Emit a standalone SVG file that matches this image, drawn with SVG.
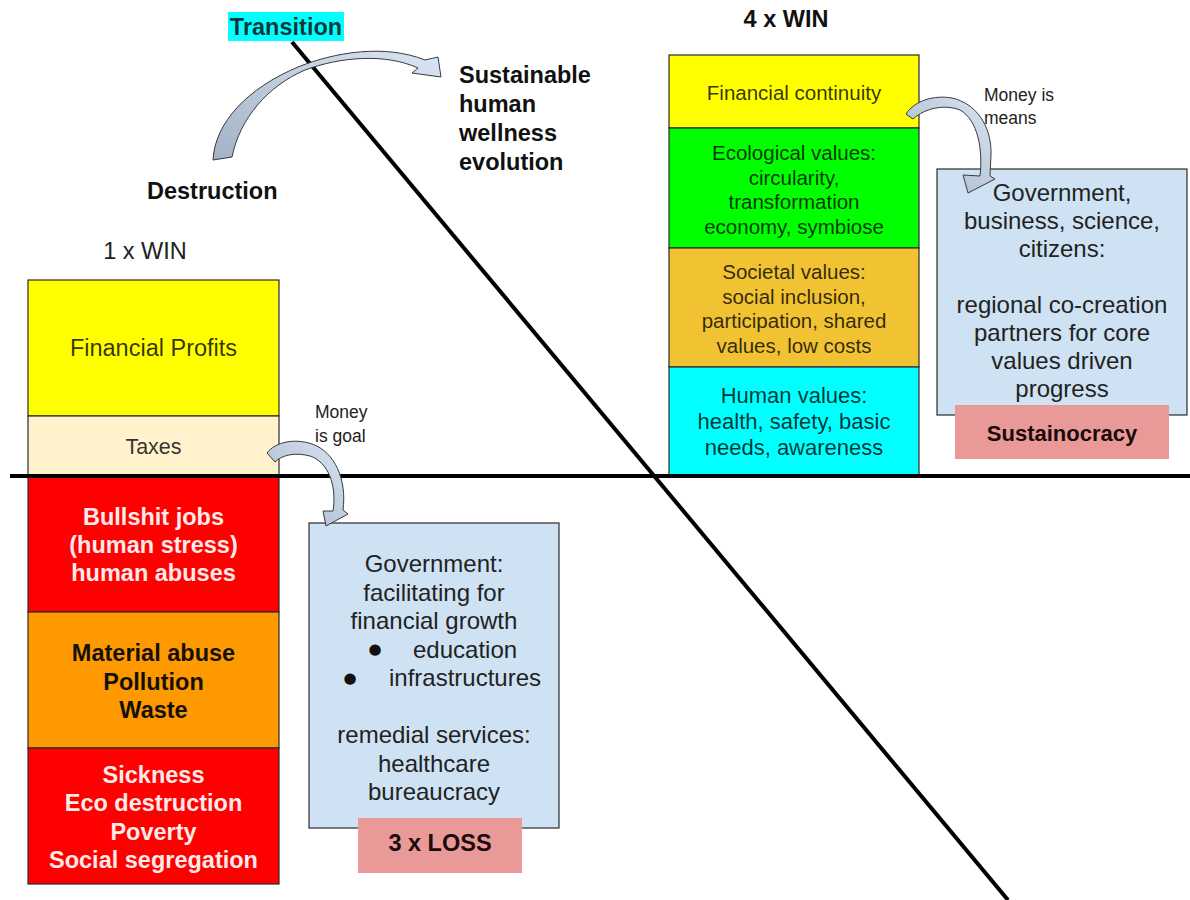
<svg xmlns="http://www.w3.org/2000/svg" width="1190" height="900" viewBox="0 0 1190 900">
  <defs>
    <style>
      text { font-family: "Liberation Sans", Arial, sans-serif; }
      .box { stroke: #2b2b2b; stroke-width: 1.2; }
      .dark { fill: #000; fill-opacity: 0.8; }
      .head { font-weight: bold; font-size: 23.5px; fill: #111; }
      .redtxt { font-weight: bold; font-size: 23.5px; fill: #ffeaea; text-anchor: middle; }
      .orgtxt { font-weight: bold; font-size: 23.5px; fill: #151005; text-anchor: middle; }
      .mid { text-anchor: middle; }
      .bullet { font-family: "DejaVu Sans", sans-serif; font-size: 15px; text-anchor: middle; fill: #111; }
      .axis { stroke: #000; stroke-width: 4; fill: none; }
      .curve { stroke: #3a3a3a; stroke-width: 1; fill: url(#arrowFill); }
    </style>
    <linearGradient id="arrowFill" x1="0" y1="1" x2="1" y2="0">
      <stop offset="0" stop-color="#a3b2c4"/>
      <stop offset="1" stop-color="#d9e6f5"/>
    </linearGradient>
  </defs>

  <rect width="1190" height="900" fill="#fff"/>

  <!-- headings -->
  <g id="transition">
    <rect x="228" y="12" width="116" height="29" fill="#00ffff"/>
    <text x="286" y="35" class="head mid" fill-opacity="0.85">Transition</text>
  </g>
  <g id="sustainable-evolution">
    <text x="459" y="83" class="head">Sustainable</text>
    <text x="459" y="112" class="head">human</text>
    <text x="459" y="141" class="head">wellness</text>
    <text x="459" y="170" class="head">evolution</text>
  </g>
  <g id="destruction">
    <text x="147" y="199" class="head">Destruction</text>
  </g>
  <g id="win-4">
    <text x="786" y="27" class="head mid">4 x WIN</text>
  </g>
  <g id="win-1">
    <text x="145" y="259" class="mid" font-size="23.5" fill="#222">1 x WIN</text>
  </g>

  <!-- left stack -->
  <g id="financial-profits">
    <rect x="28" y="280" width="251" height="136" fill="#ffff00" class="box"/>
    <text x="153.5" y="356" class="mid dark" font-size="23.5">Financial Profits</text>
  </g>
  <g id="taxes">
    <rect x="28" y="416" width="251" height="59" fill="#fff2cc" class="box"/>
    <text x="153.5" y="454" class="mid dark" font-size="21.5">Taxes</text>
  </g>
  <g id="human-abuse">
    <rect x="28" y="476" width="251" height="136" fill="#ff0000" class="box"/>
    <text x="153.5" y="525" class="redtxt">Bullshit jobs</text>
    <text x="153.5" y="553" class="redtxt">(human stress)</text>
    <text x="153.5" y="581" class="redtxt">human abuses</text>
  </g>
  <g id="material-abuse">
    <rect x="28" y="612" width="251" height="136" fill="#ff9900" class="box"/>
    <text x="153.5" y="661" class="orgtxt">Material abuse</text>
    <text x="153.5" y="690" class="orgtxt">Pollution</text>
    <text x="153.5" y="718" class="orgtxt">Waste</text>
  </g>
  <g id="social-damage">
    <rect x="28" y="748" width="251" height="136" fill="#ff0000" class="box"/>
    <text x="153.5" y="783" class="redtxt">Sickness</text>
    <text x="153.5" y="811" class="redtxt">Eco destruction</text>
    <text x="153.5" y="840" class="redtxt">Poverty</text>
    <text x="153.5" y="868" class="redtxt">Social segregation</text>
  </g>

  <!-- left government box -->
  <g id="government-growth">
    <rect x="309" y="523" width="250" height="305" fill="#cfe2f3" class="box"/>
    <g font-size="24" fill="#222">
      <text x="434" y="572" class="mid">Government:</text>
      <text x="434" y="600.5" class="mid">facilitating for</text>
      <text x="434" y="629" class="mid">financial growth</text>
      <text x="375" y="654" class="bullet">●</text>
      <text x="413" y="657.5">education</text>
      <text x="350" y="682.5" class="bullet">●</text>
      <text x="389" y="686">infrastructures</text>
      <text x="434" y="743" class="mid">remedial services:</text>
      <text x="434" y="771.5" class="mid">healthcare</text>
      <text x="434" y="800" class="mid">bureaucracy</text>
    </g>
  </g>
  <g id="loss-3">
    <rect x="358" y="818" width="164" height="55" fill="#ea9999"/>
    <text x="440" y="851" class="mid" font-weight="bold" font-size="23.5" fill="#1a0a0a">3 x LOSS</text>
  </g>

  <!-- right stack -->
  <g id="financial-continuity">
    <rect x="669" y="55" width="250" height="73" fill="#ffff00" class="box"/>
    <text x="794" y="100" class="mid dark" font-size="20.5">Financial continuity</text>
  </g>
  <g id="ecological-values">
    <rect x="669" y="128" width="250" height="120" fill="#00ff00" class="box"/>
    <g font-size="20.5" class="dark">
      <text x="794" y="160" class="mid">Ecological values:</text>
      <text x="794" y="184.5" class="mid">circularity,</text>
      <text x="794" y="209" class="mid">transformation</text>
      <text x="794" y="233.5" class="mid">economy, symbiose</text>
    </g>
  </g>
  <g id="societal-values">
    <rect x="669" y="248" width="250" height="119" fill="#f1c232" class="box"/>
    <g font-size="20.5" class="dark">
      <text x="794" y="279" class="mid">Societal values:</text>
      <text x="794" y="303.5" class="mid">social inclusion,</text>
      <text x="794" y="328" class="mid">participation, shared</text>
      <text x="794" y="352.5" class="mid">values, low costs</text>
    </g>
  </g>
  <g id="human-values">
    <rect x="669" y="367" width="250" height="109" fill="#00ffff" class="box"/>
    <g font-size="22" class="dark">
      <text x="794" y="403" class="mid">Human values:</text>
      <text x="794" y="429" class="mid">health, safety, basic</text>
      <text x="794" y="455" class="mid">needs, awareness</text>
    </g>
  </g>

  <!-- right co-creation box -->
  <g id="co-creation">
    <rect x="937" y="169" width="250" height="246" fill="#cfe2f3" class="box"/>
    <g font-size="24" fill="#222">
      <text x="1062" y="201" class="mid">Government,</text>
      <text x="1062" y="229" class="mid">business, science,</text>
      <text x="1062" y="257" class="mid">citizens:</text>
      <text x="1062" y="313" class="mid">regional co-creation</text>
      <text x="1062" y="341" class="mid">partners for core</text>
      <text x="1062" y="369" class="mid">values driven</text>
      <text x="1062" y="397" class="mid">progress</text>
    </g>
  </g>
  <g id="sustainocracy">
    <rect x="955" y="405" width="214" height="54" fill="#ea9999"/>
    <text x="1062" y="441" class="mid" font-weight="bold" font-size="22" fill="#1a0a0a">Sustainocracy</text>
  </g>

  <!-- axis lines and curved arrows -->
  <g id="connectors">
    <line x1="10" y1="476" x2="1190" y2="476" class="axis"/>
    <line x1="292" y1="42" x2="1008" y2="900" class="axis"/>

    <!-- destruction to evolution -->
    <path class="curve" d="M213,160 C215,122 248,88 298,67 C335,52 385,44 425,60 L438,57 L441,77 L412,73 L418,68 C385,53 340,57 305,70 C268,86 240,118 232,157 Z"/>

    <!-- taxes to government -->
    <path class="curve" d="M267,453 C275,442 295,438 312,444 C335,452 347,480 343,510 L348,514 L326,526 L323,511 L333,511 C337,485 328,462 310,456 C295,452 282,455 275,462 Z"/>

    <!-- financial continuity to co-creation -->
    <path class="curve" d="M906,114 C915,100 935,95 952,98 C975,103 992,125 991,155 L990,176 L995,179 L968,193 L963,175 L980,176 C983,150 978,120 960,110 C945,104 925,108 913,119 Z"/>

    <text x="315" y="418" font-size="17.5" fill="#222">Money</text>
    <text x="315" y="442" font-size="17.5" fill="#222">is goal</text>
    <text x="984" y="101" font-size="17.5" fill="#222">Money is</text>
    <text x="984" y="124" font-size="17.5" fill="#222">means</text>
  </g>
</svg>
